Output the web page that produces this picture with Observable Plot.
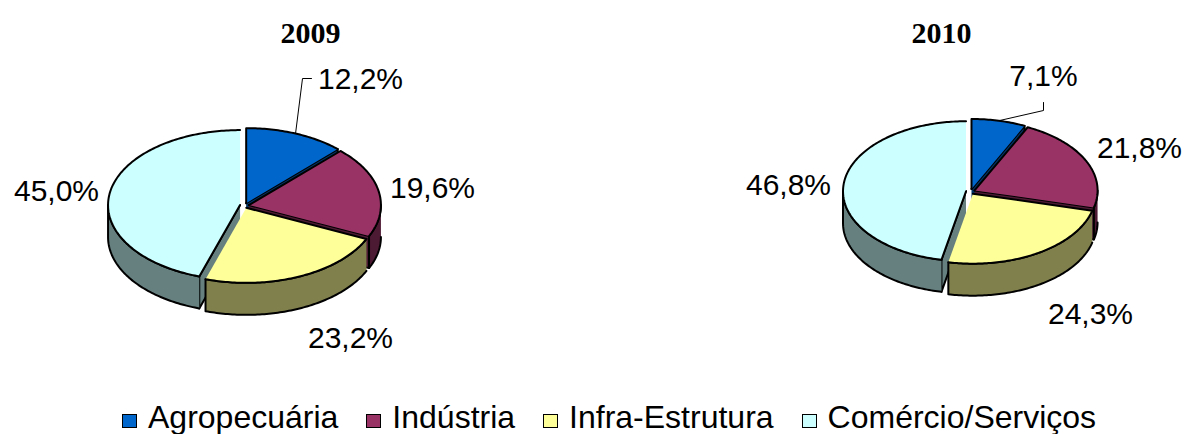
<!DOCTYPE html>
<html>
<head>
<meta charset="utf-8">
<script src="https://cdn.jsdelivr.net/npm/d3@7"></script>
<script src="https://cdn.jsdelivr.net/npm/@observablehq/plot@0.6"></script>
<style>
  html, body { margin: 0; padding: 0; background: #fff; }
  #chart { width: 1189px; height: 434px; position: relative; overflow: hidden; }
  #legend { position: absolute; left: 122px; top: 400px; height: 34px; line-height: 34px; white-space: nowrap;
            font-family: "Liberation Sans", Arial, sans-serif; font-size: 32px; color: #000; }
  #legend .item { display: inline-block; margin-right: 28px; }
  #legend .sw { display: inline-block; width: 13px; height: 12px; border: 1.5px solid #000; margin-right: 11px; vertical-align: baseline; }
</style>
</head>
<body>
<div id="chart"></div>
<script>
// ---- data ----
const categories = ["Agropecuária", "Indústria", "Infra-Estrutura", "Comércio/Serviços"];
const years = ["2009", "2010"];
const values2009 = [12.2, 19.6, 23.2, 45.0];
const values2010 = [7.1, 21.8, 24.3, 46.8];
const topColors = ["#0066CC", "#993366", "#FFFF99", "#CCFFFF"];
const sideColors = ["#003366", "#4D1A33", "#80804D", "#668080"];

// ---- layout (pixels) ----
const W = 1189, H = 400;
const layout = {
  "2009": {cx: 244, cy: 205, rx: 132, ry: 75, depth: 32, explode: 4.5, title: [310, 42],
           labels: [[360, 88], [432, 197], [350, 347], [56, 200]], leader: [[311, 78], [302, 78]]},
  "2010": {cx: 970, cy: 191, rx: 123, ry: 70, depth: 32, explode: 4.5, title: [941, 42],
           labels: [[1043, 85], [1139, 157], [1090, 323], [788, 194]], leader: [[1043, 102], [1043, 110]]}
};
const valuesByYear = {"2009": values2009, "2010": values2010};
const fmt = v => d3.format(".1f")(v).replace(".", ",") + "%";

// ---- geometry from values ----
const rad = d => d * Math.PI / 180;
const polys = [];   // rows {id, x, y, fill}
const texts = [];
const leaders = [];
let pid = 0;
for (const year of years) {
  const L = layout[year];
  const vals = valuesByYear[year];
  const total = d3.sum(vals);
  let acc = 0;
  const slices = vals.map((v, i) => {
    const a = acc / total * 360; acc += v; const b = acc / total * 360;
    const m = (a + b) / 2;
    const ox = L.explode * Math.sin(rad(m));
    const oy = -L.explode * Math.cos(rad(m)) * L.ry / L.rx;
    return {i, a, b, m, ox, oy};
  });
  const P = (s, t, dz) => [L.cx + s.ox + L.rx * Math.sin(rad(t)), L.cy + s.oy - L.ry * Math.cos(rad(t)) + dz];
  const C = (s, dz) => [L.cx + s.ox, L.cy + s.oy + dz];
  const arc = (s, t0, t1, dz) => {
    const n = Math.max(2, Math.ceil(Math.abs(t1 - t0)));
    return d3.range(n + 1).map(k => P(s, t0 + (t1 - t0) * k / n, dz));
  };
  const push = (pts, fill) => { pid++; for (const [x, y] of pts) polys.push({id: pid, x, y, fill}); };
  // painter order: back to front
  const order = slices.slice().sort((p, q) => (-Math.cos(rad(p.m))) - (-Math.cos(rad(q.m))));
  for (const s of order) {
    const D = L.depth, side = sideColors[s.i];
    const a = s.a % 360, b = s.b % 360;
    if (a > 180 && a < 360) push([C(s, 0), P(s, s.a, 0), P(s, s.a, D), C(s, D)], side);
    if (b > 0 && b < 180) push([C(s, 0), P(s, s.b, 0), P(s, s.b, D), C(s, D)], side);
    const lo = Math.max(s.a, 90), hi = Math.min(s.b, 270);
    if (hi > lo) push([...arc(s, lo, hi, 0), ...arc(s, hi, lo, D)], side);
    push([C(s, 0), ...arc(s, s.a, s.b, 0)], topColors[s.i]);
  }
  // labels
  slices.forEach(s => texts.push({x: L.labels[s.i][0], y: L.labels[s.i][1], text: fmt(vals[s.i])}));
  // leader for the smallest (first) slice
  const s0 = slices[0];
  const rim = P(s0, s0.m, 0);
  [L.leader[0], L.leader[1], rim].forEach(([x, y]) => leaders.push({year, x, y}));
}
const titles = years.map(y => ({text: y, x: layout[y].title[0], y: layout[y].title[1]}));

const chart = Plot.plot({
  width: W, height: H,
  marginTop: 0, marginRight: 0, marginBottom: 0, marginLeft: 0,
  x: {type: "linear", domain: [0, W], range: [0, W], axis: null},
  y: {type: "linear", domain: [0, H], range: [0, H], axis: null},
  color: {type: "identity"},
  style: {background: "#fff", overflow: "visible"},
  marks: [
    Plot.line(leaders, {x: "x", y: "y", z: "year", stroke: "#000", strokeWidth: 1, curve: "linear"}),
    Plot.line(polys, {x: "x", y: "y", z: "id", fill: "fill", stroke: "#000", strokeWidth: 2,
                      strokeLinejoin: "round", curve: "linear"}),
    Plot.text(texts, {x: "x", y: "y", text: "text", fill: "#000", fontSize: 30, lineAnchor: "bottom",
                      textAnchor: "middle", fontFamily: "'Liberation Sans', Arial, sans-serif"}),
    Plot.text(titles, {x: "x", y: "y", text: "text", fill: "#000", fontSize: 30, fontWeight: "bold",
                       lineAnchor: "bottom", textAnchor: "middle", fontFamily: "'Liberation Serif', 'Times New Roman', serif"})
  ]
});
const root = document.getElementById("chart");
root.appendChild(chart);

const legend = document.createElement("div");
legend.id = "legend";
categories.forEach((c, i) => {
  const it = document.createElement("span");
  it.className = "item";
  const sw = document.createElement("span");
  sw.className = "sw";
  sw.style.background = topColors[i];
  it.appendChild(sw);
  it.appendChild(document.createTextNode(c));
  legend.appendChild(it);
});
root.appendChild(legend);
</script>
</body>
</html>
